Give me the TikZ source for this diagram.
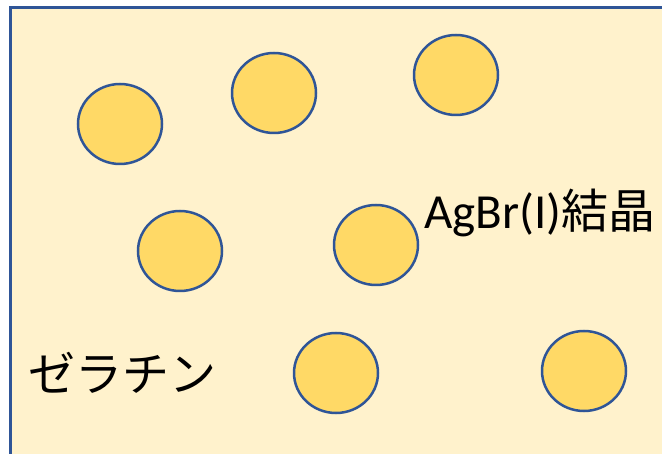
\documentclass[tikz,border=0pt]{standalone}
\usetikzlibrary{shapes.geometric}
\usepackage{fontspec}
\setmainfont{Carlito}
\newfontfamily\jpfont{Noto Sans CJK JP}
\definecolor{bgfill}{HTML}{FFF2CC}
\definecolor{edgeblue}{HTML}{2F5597}
\definecolor{grainfill}{HTML}{FFD966}
\begin{document}
\begin{tikzpicture}[x=1pt,y=-1pt,
  grain/.style={ellipse,draw=edgeblue,line width=2.5pt,fill=grainfill,minimum width=84pt,minimum height=80pt,inner sep=0pt},
  lbl/.style={inner sep=0pt,font=\fontsize{49}{52}\selectfont}]
\useasboundingbox (0,0) rectangle (662,454);
\path[fill=white] (0,0) rectangle (662,454);
\draw[draw=edgeblue,line width=3pt,fill=bgfill] (10,8) rectangle (690,480);
\node[grain] (g1) at (120,124) {};
\node[grain] (g2) at (274,93) {};
\node[grain] (g3) at (456,75) {};
\node[grain] (g4) at (180,251) {};
\node[grain] (g5) at (376,245) {};
\node[grain] (g6) at (336,373) {};
\node[grain] (g7) at (584,371) {};
\node[lbl,anchor=base west] (agbr) at (424,229) {AgBr(I){\jpfont\fontsize{47}{52}\selectfont 結晶}};
\node[lbl,anchor=base west] (gel) at (28,392) {\jpfont\fontsize{47}{52}\selectfont ゼラチン};
\end{tikzpicture}
\end{document}
